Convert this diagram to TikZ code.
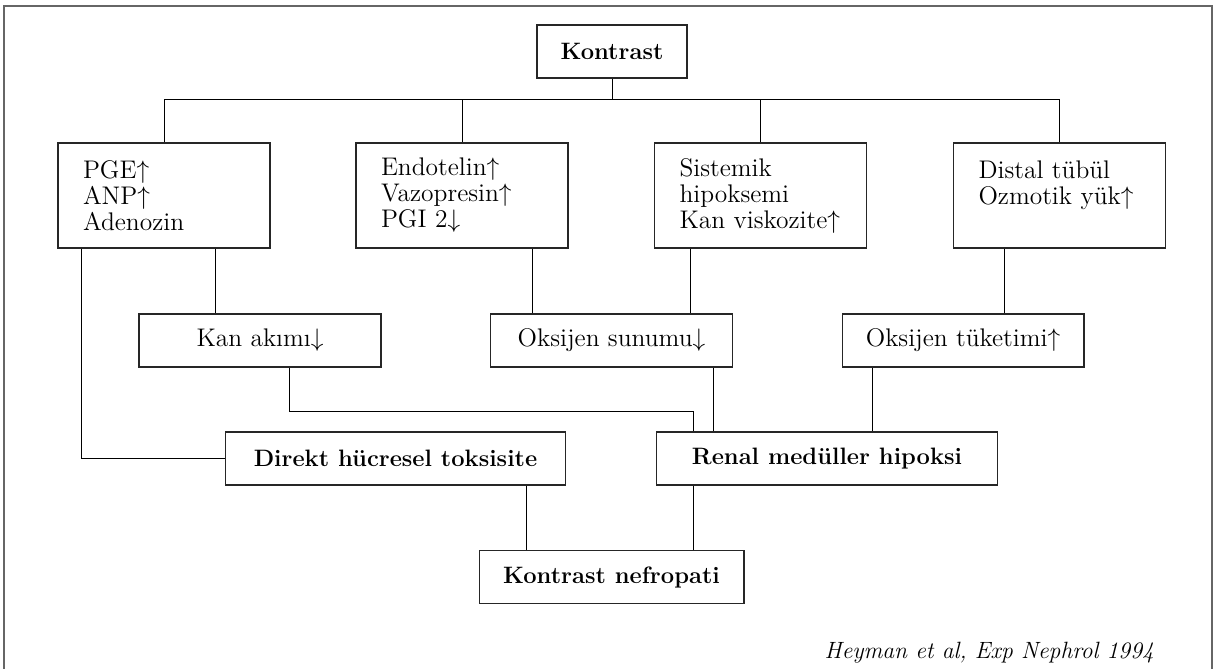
\documentclass[tikz,border=0pt]{standalone}
\usepackage{amsmath,amssymb}
\usepackage{tikz}
\usetikzlibrary{positioning, calc}
\tikzstyle{frame} = [draw=black!60, line width=1.1pt]
\tikzstyle{topbox} = [rectangle,
minimum width=3cm,
minimum height=1.06cm,
text centered,
font=\fontsize{13.5}{15}\selectfont\bfseries,
draw=black!85, line width=0.6pt]
\tikzstyle{causebox} = [rectangle,
minimum width=4.24cm,
minimum height=2.1cm,
inner xsep=0.5cm,
text width=3.24cm,
align=left,
font=\fontsize{14.5}{14.8}\selectfont,
draw=black!85, line width=0.6pt]
\tikzstyle{effectbox} = [rectangle,
minimum width=4.84cm,
minimum height=1.06cm,
text centered,
font=\fontsize{14.5}{14.8}\selectfont,
draw=black!85, line width=0.6pt]
\tikzstyle{outcomebox} = [rectangle,
minimum width=6.82cm,
minimum height=1.06cm,
text centered,
font=\fontsize{13.5}{15}\selectfont\bfseries,
draw=black!85, line width=0.6pt]
\tikzstyle{connector} = [draw=black, line width=0.5pt]

\begin{document}
\begin{tikzpicture}[x=0.02cm, y=-0.02cm]
                \useasboundingbox (0,0) rectangle (1214,669);
                \draw [frame] (4,675) -- (4,6) -- (1212,6) -- (1212,675);

                \node (kontrast) [topbox] at (612,51.5) {Kontrast};
                \coordinate (bus) at (612,99);
                \node (pge) [causebox] at (164,195.5) {PGE$\uparrow$\\ANP$\uparrow$\\Adenozin};
                \node (endo) [causebox] at (462,195.5) {Endotelin$\uparrow$\\Vazopresin$\uparrow$\\PGI 2$\downarrow$};
                \node (sist) [causebox] at (760.5,195.5) {Sistemik\\hipoksemi\\Kan~viskozite$\uparrow$};
                \node (dist) [causebox] at (1059.5,195.5) {Distal tübül\\Ozmotik~yük$\uparrow$\\\mbox{}};
                \node (kanakim) [effectbox] at (260,340.5) {Kan akımı$\downarrow$};
                \node (oksun) [effectbox] at (611.5,340.5) {Oksijen sunumu$\downarrow$};
                \node (oktuk) [effectbox] at (963,340.5) {Oksijen tüketimi$\uparrow$};
                \node (direkt) [outcomebox] at (395.5,458.5) {Direkt hücresel toksisite};
                \node (renal) [outcomebox] at (827,458.5) {Renal medüller hipoksi};
                \node (nefro) [outcomebox, minimum width=5.3cm] at (611.5,577) {Kontrast nefropati};
                \node (kaynak) [anchor=base east, font=\fontsize{13.4}{15}\selectfont\itshape] at (1160,658) {Heyman et al, Exp Nephrol 1994};

                % tree from the top
                \draw [connector] (kontrast.south) -- (bus);
                \draw [connector] (bus) -| (pge.north);
                \draw [connector] (bus) -| (endo.north);
                \draw [connector] (bus) -| (sist.north);
                \draw [connector] (bus) -| (dist.north);

                % causes to effects
                \draw [connector] ([xshift=1.02cm]pge.south) -- ([xshift=1.02cm]pge.south |- kanakim.north);
                \draw [connector] ([xshift=1.4cm]endo.south) -- ([xshift=1.4cm]endo.south |- oksun.north);
                \draw [connector] ([xshift=-1.41cm]sist.south) -- ([xshift=-1.41cm]sist.south |- oksun.north);
                \draw [connector] ([xshift=-1.11cm]dist.south) -- ([xshift=-1.11cm]dist.south |- oktuk.north);
                \draw [connector] ([xshift=-1.66cm]pge.south) |- (direkt.west);

                % effects to hypoxia
                \draw [connector] ([xshift=0.58cm]kanakim.south) -- ++(0,44) -| ([xshift=-2.68cm]renal.north);
                \draw [connector] ([xshift=2.03cm]oksun.south) -- ([xshift=2.03cm]oksun.south |- renal.north);
                \draw [connector] ([xshift=-1.82cm]oktuk.south) -- ([xshift=-1.82cm]oktuk.south |- renal.north);

                % to nephropathy
                \draw [connector] ([xshift=2.61cm]direkt.south) -- ([xshift=2.61cm]direkt.south |- nefro.north);
                \draw [connector] ([xshift=-2.68cm]renal.south) -- ([xshift=-2.68cm]renal.south |- nefro.north);
            \end{tikzpicture}
\end{document}
